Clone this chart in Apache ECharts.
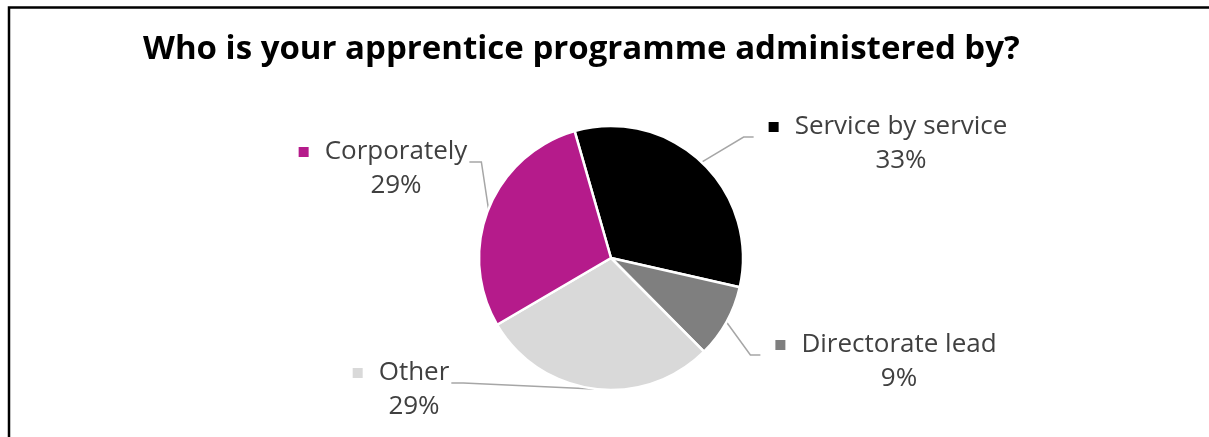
<!DOCTYPE html>
<html>
<head>
<meta charset="utf-8">
<script src="https://cdn.jsdelivr.net/npm/echarts@6/dist/echarts.min.js"></script>
<style>
  html, body { margin: 0; padding: 0; background: #ffffff; }
  #chart { width: 1209px; height: 437px; }
</style>
</head>
<body>
<div id="chart"></div>
<script>
// ---- data ----
const titleText = 'Who is your apprentice programme administered by?';
const categories = ['Service by service', 'Directorate lead', 'Other', 'Corporately'];
const shares = [33, 9, 29, 29];            // percent of responses
const sliceColors = ['#000000', '#7f7f7f', '#d9d9d9', '#b51b8b'];

// ---- label placement (centre x of the name text, middle y of its first line) ----
const labelAnchors = [[901, 127], [899, 345], [414, 373], [396, 152]];
const labelSides = ['right', 'right', 'left', 'left'];

const FONT = '"Open Sans", "Noto Sans", sans-serif';
const TEXT_COLOR = '#404040';
const LINE_H = 34;
const MARK_GAP = 26;   // swatch width + gap before the name

const chart = echarts.init(document.getElementById('chart'), null, { renderer: 'canvas' });

const seriesData = categories.map((name, i) => ({
  name: name,
  value: shares[i],
  itemStyle: { color: sliceColors[i] },
  label: {
    rich: {
      m: { width: 10, height: 10, backgroundColor: sliceColors[i], lineHeight: LINE_H },
      n: { fontFamily: FONT, fontSize: 26, color: TEXT_COLOR, lineHeight: LINE_H, padding: [0, 0, 0, 16] },
      p: { fontFamily: FONT, fontSize: 26, color: TEXT_COLOR, lineHeight: LINE_H, padding: [0, 0, 0, MARK_GAP] }
    }
  }
}));

const option = {
  animation: false,
  backgroundColor: '#ffffff',
  title: {
    text: titleText,
    left: 143,
    top: 33,
    padding: 0,
    textStyle: {
      fontFamily: FONT,
      fontWeight: 'bold',
      fontSize: 33,
      color: '#000000'
    }
  },
  graphic: [{
    type: 'polyline',
    silent: true,
    shape: { points: [[9, 445], [9, 7.5], [1215, 7.5]] },
    style: { stroke: '#000000', lineWidth: 2.5, fill: null }
  }],
  series: [{
    type: 'pie',
    center: [611, 258],
    radius: 132,
    startAngle: 106,
    clockwise: true,
    avoidLabelOverlap: false,
    itemStyle: { borderColor: '#ffffff', borderWidth: 2.5 },
    emphasis: { disabled: true },
    label: {
      show: true,
      position: 'outside',
      formatter: p => `{m| }{n|${p.name}}\n{p|${p.value}%}`,
      align: 'center'
    },
    labelLine: {
      show: true,
      length: 10,
      length2: 10,
      lineStyle: { color: '#a6a6a6', width: 1.5 }
    },
    labelLayout: function (p) {
      const i = p.dataIndex;
      const w = p.labelRect.width;
      const cx = labelAnchors[i][0] - MARK_GAP / 2;
      const cy = labelAnchors[i][1] + LINE_H / 2;
      const yLine = cy - 7;
      const edge = p.labelLinePoints ? p.labelLinePoints[0] : null;
      let pts = null;
      if (edge) {
        if (labelSides[i] === 'right') {
          const end = cx - w / 2 - 15;
          pts = [edge, [end - 10, yLine], [end, yLine]];
        } else {
          const end = cx + w / 2 + 2;
          pts = [edge, [end + 12, yLine], [end, yLine]];
        }
      }
      const out = { x: cx, y: cy, align: 'center', verticalAlign: 'middle' };
      if (pts) out.labelLinePoints = pts;
      return out;
    },
    data: seriesData
  }]
};

chart.setOption(option);
</script>
</body>
</html>
